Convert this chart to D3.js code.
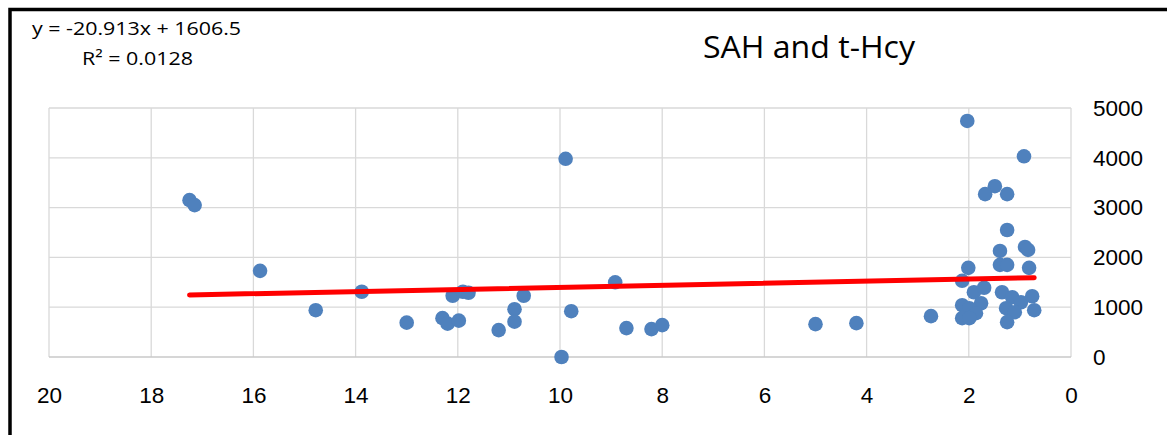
<!DOCTYPE html>
<html>
<head>
<meta charset="utf-8">
<script src="https://cdn.jsdelivr.net/npm/d3@7"></script>
<style>
  html, body { margin: 0; padding: 0; background: #fff; }
  svg { display: block; }
</style>
</head>
<body>
<figure id="scatter" style="margin:0"></figure>
<script>
// SAH (x) vs t-Hcy (y)
const sahValues = [
  17.25, 17.15, 15.87, 14.78, 13.88, 13.0, 12.3, 12.2, 12.1, 11.98, 11.9, 11.79,
  11.2, 10.89, 10.89, 10.71, 9.89, 9.97, 9.78, 8.92, 8.7, 8.21, 8.0,
  5.0, 4.2, 2.74,
  2.03, 0.92, 1.49, 1.68, 1.25, 1.25, 1.39, 0.9, 0.84, 1.39, 1.25, 2.01, 0.82,
  2.13, 1.9, 1.7, 1.35, 1.15, 0.98, 0.76, 1.76, 2.13, 1.99, 1.86, 1.27, 1.1,
  0.72, 2.13, 1.99, 1.25
];
const hcyValues = [
  3150, 3050, 1730, 940, 1310, 690, 780, 670, 1230, 730, 1310, 1290,
  540, 960, 710, 1230, 3980, 0, 920, 1500, 580, 560, 640,
  660, 680, 820,
  4740, 4030, 3430, 3270, 3270, 2550, 2130, 2210, 2150, 1850, 1850, 1790, 1790,
  1530, 1300, 1390, 1300, 1200, 1100, 1220, 1080, 1040, 980, 880, 980, 900,
  940, 780, 780, 700
];
const xTicks = [20, 18, 16, 14, 12, 10, 8, 6, 4, 2, 0];
const yTicks = [0, 1000, 2000, 3000, 4000, 5000];

const slope = -20.913;
const intercept = 1606.5;
const rSquared = "0.0128";
const title = "SAH and t-Hcy";

const width = 1167, height = 435;
const tickFont = "'Liberation Sans', Arial, sans-serif";

const svg = d3.select("figure#scatter")
  .append("svg")
  .attr("width", width)
  .attr("height", height);

// outer frame (only top and left edges show)
svg.append("rect")
  .attr("x", 10).attr("y", 9.5)
  .attr("width", 1300).attr("height", 600)
  .attr("fill", "none")
  .attr("stroke", "#000")
  .attr("stroke-width", 3.5);

const x = d3.scaleLinear().domain([20, 0]).range([49, 1071]);
const y = d3.scaleLinear().domain([0, 5000]).range([357, 108]);

// gridlines
const grid = svg.append("g").attr("stroke", "#d9d9d9").attr("stroke-width", 1.3);
grid.selectAll("line.v")
  .data(xTicks)
  .enter().append("line")
  .attr("class", "v")
  .attr("x1", d => x(d)).attr("x2", d => x(d))
  .attr("y1", y(0)).attr("y2", y(5000));
grid.selectAll("line.h")
  .data(yTicks)
  .enter().append("line")
  .attr("class", "h")
  .attr("x1", x(20)).attr("x2", x(0))
  .attr("y1", d => y(d)).attr("y2", d => y(d))
  .attr("stroke", d => d === 0 ? "#c8c8c8" : "#d9d9d9");

// X axis labels
const xAxis = svg.append("g")
  .attr("transform", "translate(0," + y(0) + ")")
  .call(d3.axisBottom(x).tickValues(xTicks).tickFormat(d3.format("d")).tickSize(0).tickPadding(30));
xAxis.select(".domain").remove();
xAxis.attr("font-family", tickFont).attr("font-size", 22.5);
xAxis.selectAll("text").attr("fill", "#000");

// Y axis labels (right side)
const yAxis = svg.append("g")
  .attr("transform", "translate(1093,0)")
  .call(d3.axisRight(y).tickValues(yTicks).tickFormat(d3.format("d")).tickSize(0).tickPadding(0));
yAxis.select(".domain").remove();
yAxis.attr("font-family", tickFont).attr("font-size", 22.5).attr("text-anchor", "start");
yAxis.selectAll("text").attr("fill", "#000");

// dots
svg.append("g")
  .selectAll("circle")
  .data(sahValues.map((d, i) => [d, hcyValues[i]]))
  .enter()
  .append("circle")
  .attr("cx", d => x(d[0]))
  .attr("cy", d => y(d[1]))
  .attr("r", 7.3)
  .style("fill", "#4f81bd");

// linear trendline over the data range
const ext = d3.extent(sahValues);
svg.append("line")
  .attr("x1", x(ext[1])).attr("y1", y(slope * ext[1] + intercept))
  .attr("x2", x(ext[0])).attr("y2", y(slope * ext[0] + intercept))
  .attr("stroke", "#ff0000")
  .attr("stroke-width", 5)
  .attr("stroke-linecap", "round");

// title
svg.append("text")
  .attr("x", 703).attr("y", 58)
  .attr("font-family", "'Open Sans', 'Noto Sans', sans-serif")
  .attr("font-size", 31)
  .attr("textLength", 212)
  .attr("lengthAdjust", "spacingAndGlyphs")
  .attr("fill", "#000")
  .text(title);

// trendline equation
svg.append("text")
  .attr("x", 32).attr("y", 35)
  .attr("font-family", "'Open Sans', 'Noto Sans', sans-serif")
  .attr("font-size", 18.5)
  .attr("textLength", 209)
  .attr("lengthAdjust", "spacingAndGlyphs")
  .attr("fill", "#000")
  .text("y = " + slope + "x + " + intercept);

svg.append("text")
  .attr("x", 82).attr("y", 65)
  .attr("font-family", "'Open Sans', 'Noto Sans', sans-serif")
  .attr("font-size", 18.5)
  .attr("textLength", 111)
  .attr("lengthAdjust", "spacingAndGlyphs")
  .attr("fill", "#000")
  .text("R\u00b2 = " + rSquared);
</script>
</body>
</html>
